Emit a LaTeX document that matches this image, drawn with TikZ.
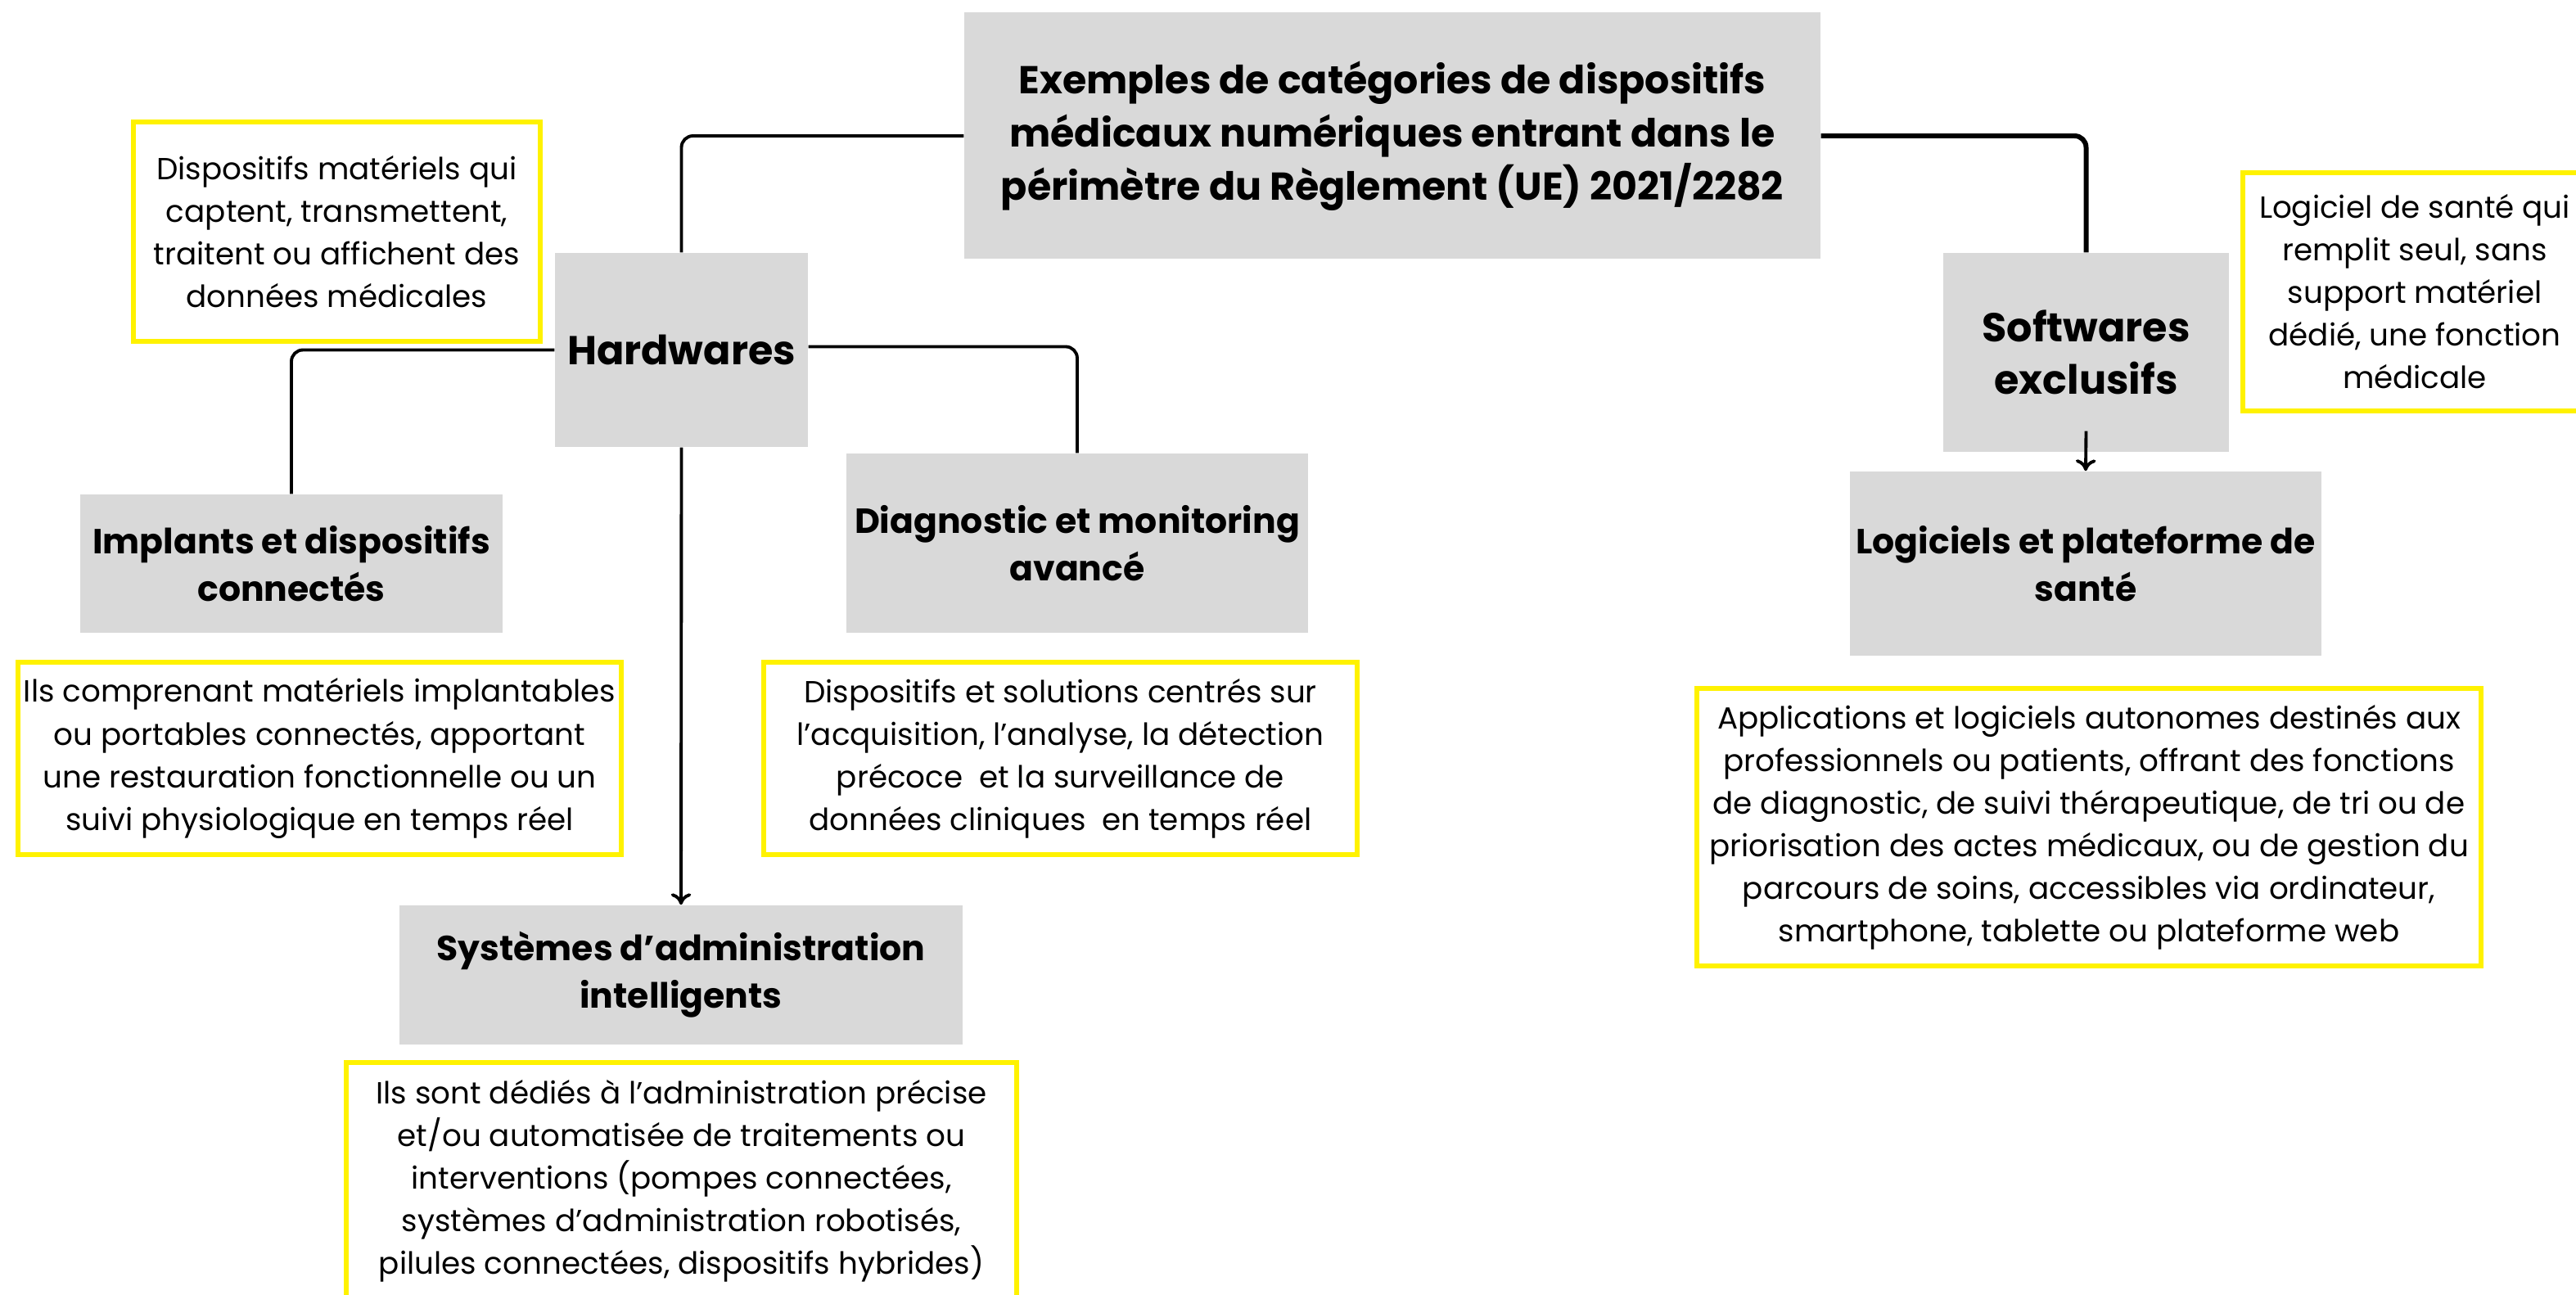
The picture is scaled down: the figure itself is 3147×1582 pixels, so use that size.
\documentclass[tikz,border=0pt]{standalone}
\usepackage{fontspec}
\setmainfont{Poppins}
\usetikzlibrary{arrows.meta}
\definecolor{boxgray}{HTML}{D9D9D9}
\definecolor{hiyellow}{HTML}{FFF200}
\begin{document}
\begin{tikzpicture}[x=0.01cm,y=-0.01cm,
  graybox/.style={fill=boxgray,draw=none,inner sep=0pt,align=center,font=\bfseries},
  ybox/.style={draw=hiyellow,line width=1.7pt,fill=white,inner sep=0pt,align=center},
  conn/.style={line width=1.1pt,rounded corners=4pt},
  arr/.style={line width=1.1pt,-{To[length=4pt,width=7pt]}},
  desc/.style={font=\fontsize{10.6}{14.8}\selectfont},
  sub/.style={font=\bfseries\fontsize{12.1}{16.5}\selectfont}
]
\useasboundingbox (0,0) rectangle (3147,1582);
\fill[white] (0,0) rectangle (3147,1582);

% main boxes
\node[graybox,minimum width=1046*0.01cm,minimum height=301*0.01cm,
      font=\bfseries\fontsize{13.5}{18.5}\selectfont] (title) at (1701,166)
  {Exemples de catégories de dispositifs\\médicaux numériques entrant dans le\\périmètre du Règlement (UE) 2021/2282};

\node[graybox,minimum width=309*0.01cm,minimum height=237*0.01cm,
      font=\bfseries\fontsize{14}{18.2}\selectfont] (hw) at (832.5,427.5) {Hardwares};

\node[graybox,minimum width=349*0.01cm,minimum height=243*0.01cm,
      font=\bfseries\fontsize{14}{18.2}\selectfont] (sw) at (2548.5,430.5) {Softwares\\exclusifs};

\node[graybox,sub,minimum width=516*0.01cm,minimum height=169*0.01cm] (imp) at (356,688.5)
  {Implants et dispositifs\\connectés};
\node[graybox,sub,minimum width=564*0.01cm,minimum height=219*0.01cm] (diag) at (1316,663.5)
  {Diagnostic et monitoring\\avancé};
\node[graybox,sub,minimum width=688*0.01cm,minimum height=170*0.01cm] (sys) at (832,1191)
  {Systèmes d’administration\\intelligents};
\node[graybox,sub,minimum width=576*0.01cm,minimum height=225*0.01cm] (logi) at (2548,688.5)
  {Logiciels et plateforme de\\santé};

% description boxes
\node[ybox,desc,minimum width=497*0.01cm,minimum height=268*0.01cm] (hwd) at (411.5,283)
  {Dispositifs matériels qui\\captent, transmettent,\\traitent ou affichent des\\données médicales};
\node[ybox,desc,minimum width=420*0.01cm,minimum height=291*0.01cm] (swd) at (2950,356.5)
  {Logiciel de santé qui\\remplit seul, sans\\support matériel\\dédié, une fonction\\médicale};
\node[ybox,desc,minimum width=737*0.01cm,minimum height=235*0.01cm] (impd) at (390.5,926.5)
  {Ils comprenant matériels implantables\\ou portables connectés, apportant\\une restauration fonctionnelle ou un\\suivi physiologique en temps réel};
\node[ybox,desc,minimum width=725*0.01cm,minimum height=235*0.01cm] (diagd) at (1295.5,926.5)
  {Dispositifs et solutions centrés sur\\l’acquisition, l’analyse, la détection\\précoce\ \ et la surveillance de\\données cliniques\ \ en temps réel};
\node[ybox,desc,minimum width=819*0.01cm,minimum height=290*0.01cm] (sysd) at (832.5,1443)
  {Ils sont dédiés à l’administration précise\\et/ou automatisée de traitements ou\\interventions (pompes connectées,\\systèmes d’administration robotisés,\\pilules connectées, dispositifs hybrides)};
\node[ybox,desc,minimum width=958*0.01cm,minimum height=339*0.01cm] (logid) at (2552,1010.5)
  {Applications et logiciels autonomes destinés aux\\professionnels ou patients, offrant des fonctions\\de diagnostic, de suivi thérapeutique, de tri ou de\\priorisation des actes médicaux, ou de gestion du\\parcours de soins, accessibles via ordinateur,\\smartphone, tablette ou plateforme web};

% connectors
\draw[conn] (title.west) -| (hw.north);
\draw[conn,line width=1.7pt] (title.east) -| (sw.north);
\draw[conn] (hw.west) -| (imp.north);
\draw[conn] ([yshift=0.04cm]hw.east) -| (diag.north);
\draw[arr] (hw.south) -- (sys.north);
\draw[arr] ([yshift=0.26cm]sw.south) -- (logi.north);
\end{tikzpicture}
\end{document}
